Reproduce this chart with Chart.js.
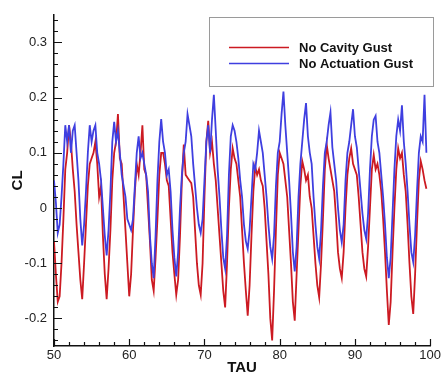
<!DOCTYPE html>
<html>
<head>
<meta charset="utf-8">
<script src="https://cdn.jsdelivr.net/npm/chart.js@4.4.1/dist/chart.umd.min.js"></script>
<style>
  html, body { margin: 0; padding: 0; background: #fff; }
  #wrap { width: 443px; height: 377px; position: relative; }
</style>
</head>
<body>
<div id="wrap"><canvas id="clChart"></canvas></div>
<script>
// sample times (TAU)
const tau = [
  50.00, 50.25, 50.50, 50.75, 51.00, 51.25, 51.50, 51.75, 52.00, 52.25, 52.50, 52.75,
  53.00, 53.25, 53.50, 53.75, 54.00, 54.25, 54.50, 54.75, 55.00, 55.25, 55.50, 55.75,
  56.00, 56.25, 56.50, 56.75, 57.00, 57.25, 57.50, 57.75, 58.00, 58.25, 58.50, 58.75,
  59.00, 59.25, 59.50, 59.75, 60.00, 60.25, 60.50, 60.75, 61.00, 61.25, 61.50, 61.75,
  62.00, 62.25, 62.50, 62.75, 63.00, 63.25, 63.50, 63.75, 64.00, 64.25, 64.50, 64.75,
  65.00, 65.25, 65.50, 65.75, 66.00, 66.25, 66.50, 66.75, 67.00, 67.25, 67.50, 67.75,
  68.00, 68.25, 68.50, 68.75, 69.00, 69.25, 69.50, 69.75, 70.00, 70.25, 70.50, 70.75,
  71.00, 71.25, 71.50, 71.75, 72.00, 72.25, 72.50, 72.75, 73.00, 73.25, 73.50, 73.75,
  74.00, 74.25, 74.50, 74.75, 75.00, 75.25, 75.50, 75.75, 76.00, 76.25, 76.50, 76.75,
  77.00, 77.25, 77.50, 77.75, 78.00, 78.25, 78.50, 78.75, 79.00, 79.25, 79.50, 79.75,
  80.00, 80.25, 80.50, 80.75, 81.00, 81.25, 81.50, 81.75, 82.00, 82.25, 82.50, 82.75,
  83.00, 83.25, 83.50, 83.75, 84.00, 84.25, 84.50, 84.75, 85.00, 85.25, 85.50, 85.75,
  86.00, 86.25, 86.50, 86.75, 87.00, 87.25, 87.50, 87.75, 88.00, 88.25, 88.50, 88.75,
  89.00, 89.25, 89.50, 89.75, 90.00, 90.25, 90.50, 90.75, 91.00, 91.25, 91.50, 91.75,
  92.00, 92.25, 92.50, 92.75, 93.00, 93.25, 93.50, 93.75, 94.00, 94.25, 94.50, 94.75,
  95.00, 95.25, 95.50, 95.75, 96.00, 96.25, 96.50, 96.75, 97.00, 97.25, 97.50, 97.75,
  98.00, 98.25, 98.50, 98.75, 99.00, 99.25, 99.50
];

// CL, No Cavity Gust
const noCavity = [
  -0.06, -0.12, -0.17, -0.16, -0.10, -0.02, 0.07, 0.10, 0.15, 0.12, 0.07, 0.03,
  -0.03, -0.08, -0.13, -0.165, -0.10, -0.03, 0.04, 0.08, 0.09, 0.10, 0.12, 0.08,
  0.02, 0.04, -0.05, -0.12, -0.165, -0.11, -0.04, 0.05, 0.10, 0.12, 0.17, 0.09,
  0.08, 0.02, -0.04, -0.10, -0.16, -0.12, -0.04, 0.03, 0.08, 0.06, 0.10, 0.15,
  0.07, 0.06, 0.00, -0.06, -0.13, -0.15, -0.09, -0.02, 0.06, 0.10, 0.10, 0.08,
  0.05, 0.04, -0.02, -0.08, -0.12, -0.157, -0.13, -0.05, 0.05, 0.115, 0.06, 0.055,
  0.05, 0.045, 0.02, -0.04, -0.10, -0.14, -0.157, -0.10, 0.02, 0.12, 0.158, 0.10,
  0.12, 0.08, 0.05, 0.00, -0.05, -0.10, -0.15, -0.18, -0.10, 0.00, 0.07, 0.108,
  0.09, 0.08, 0.05, 0.02, -0.04, -0.10, -0.15, -0.195, -0.14, -0.05, 0.03, 0.075,
  0.06, 0.07, 0.05, 0.04, 0.00, -0.06, -0.12, -0.20, -0.24, -0.15, -0.04, 0.06,
  0.10, 0.09, 0.08, 0.05, 0.02, -0.04, -0.10, -0.17, -0.204, -0.12, -0.04, 0.04,
  0.085, 0.07, 0.05, 0.06, 0.02, 0.00, -0.05, -0.10, -0.14, -0.162, -0.10, -0.02,
  0.07, 0.115, 0.09, 0.07, 0.05, 0.03, -0.02, -0.08, -0.11, -0.127, -0.08, 0.00,
  0.06, 0.09, 0.108, 0.08, 0.07, 0.06, 0.02, -0.03, -0.08, -0.11, -0.124, -0.07,
  0.00, 0.07, 0.096, 0.07, 0.08, 0.06, 0.03, -0.02, -0.08, -0.15, -0.212, -0.17,
  -0.08, 0.00, 0.07, 0.108, 0.09, 0.10, 0.06, 0.03, -0.03, -0.10, -0.16, -0.192,
  -0.12, -0.03, 0.05, 0.085, 0.07, 0.05, 0.035
];

// CL, No Actuation Gust
const noActuation = [
  0.05, 0.01, -0.045, -0.03, 0.02, 0.08, 0.15, 0.12, 0.15, 0.10, 0.14, 0.15,
  0.10, 0.05, -0.02, -0.068, -0.03, 0.03, 0.10, 0.15, 0.12, 0.14, 0.15, 0.10,
  0.08, 0.05, 0.00, -0.05, -0.086, -0.04, 0.03, 0.12, 0.156, 0.12, 0.14, 0.10,
  0.06, 0.04, 0.02, -0.02, -0.03, -0.04, -0.02, 0.04, 0.10, 0.13, 0.09, 0.10,
  0.08, 0.06, 0.03, -0.05, -0.10, -0.127, -0.05, 0.05, 0.12, 0.161, 0.12, 0.10,
  0.06, 0.07, 0.03, -0.04, -0.09, -0.124, -0.08, 0.00, 0.06, 0.10, 0.12, 0.17,
  0.15, 0.13, 0.08, 0.04, 0.00, -0.03, -0.045, -0.02, 0.05, 0.12, 0.15, 0.10,
  0.16, 0.205, 0.14, 0.07, 0.02, -0.04, -0.09, -0.11, -0.05, 0.06, 0.13, 0.15,
  0.14, 0.12, 0.09, 0.05, 0.02, -0.03, -0.06, -0.074, -0.04, 0.02, 0.08, 0.07,
  0.10, 0.14, 0.12, 0.10, 0.06, 0.02, -0.03, -0.07, -0.092, -0.05, 0.04, 0.10,
  0.12, 0.17, 0.211, 0.15, 0.10, 0.05, -0.01, -0.08, -0.115, -0.07, 0.02, 0.08,
  0.12, 0.16, 0.19, 0.13, 0.10, 0.08, 0.02, -0.03, -0.07, -0.092, -0.04, 0.04,
  0.10, 0.12, 0.15, 0.173, 0.11, 0.08, 0.05, 0.00, -0.04, -0.062, -0.03, 0.05,
  0.10, 0.12, 0.15, 0.179, 0.13, 0.11, 0.07, 0.03, -0.01, -0.04, -0.056, -0.01,
  0.07, 0.13, 0.16, 0.167, 0.12, 0.10, 0.06, 0.02, -0.03, -0.09, -0.127, -0.09,
  -0.01, 0.07, 0.13, 0.16, 0.14, 0.186, 0.12, 0.08, 0.03, -0.03, -0.08, -0.098,
  -0.05, 0.03, 0.10, 0.13, 0.12, 0.205, 0.10
];

const xTicks = [50, 60, 70, 80, 90, 100];
const yTicks = [-0.2, -0.1, 0, 0.1, 0.2, 0.3];
const yTickLabels = ['-0.2', '-0.1', '0', '0.1', '0.2', '0.3'];
const seriesNames = ['No Cavity Gust', 'No Actuation Gust'];
const seriesColors = ['#cc1a22', '#3f3fe0'];

const pts = ys => ys.map((v, i) => ({x: tau[i], y: v}));

// inward major/minor ticks like the original plotting tool
const innerTicks = {
  id: 'innerTicks',
  afterDraw(chart) {
    const {ctx, chartArea: a, scales: {x, y}} = chart;
    ctx.save();
    ctx.strokeStyle = '#111';
    ctx.lineWidth = 1.2;
    ctx.beginPath();
    for (let v = 50; v <= 100.001; v += 2) {
      const px = Math.round(x.getPixelForValue(v)) + 0.5;
      const len = xTicks.includes(Math.round(v)) ? 7 : 4;
      ctx.moveTo(px, a.bottom);
      ctx.lineTo(px, a.bottom - len);
    }
    for (let k = -12; k <= 17; k++) {
      const v = k * 0.02;
      const py = Math.round(y.getPixelForValue(v)) + 0.5;
      const len = k % 5 === 0 ? 8 : 4;
      ctx.moveTo(a.left, py);
      ctx.lineTo(a.left + len, py);
    }
    ctx.stroke();
    ctx.restore();
  }
};

// boxed legend sitting over the lines, top right
const boxLegend = {
  id: 'boxLegend',
  afterDatasetsDraw(chart) {
    const ctx = chart.ctx;
    ctx.save();
    ctx.fillStyle = '#fff';
    ctx.fillRect(209, 17, 225, 70);
    ctx.strokeStyle = '#9a9a9a';
    ctx.lineWidth = 1;
    ctx.strokeRect(209.5, 17.5, 224, 69);
    ctx.font = 'bold 13px "Liberation Sans", Arial, sans-serif';
    ctx.textBaseline = 'middle';
    seriesNames.forEach((name, i) => {
      const yy = 47 + i * 16;
      ctx.strokeStyle = seriesColors[i];
      ctx.lineWidth = 1.3;
      ctx.beginPath();
      ctx.moveTo(229, yy + 0.5);
      ctx.lineTo(289, yy + 0.5);
      ctx.stroke();
      ctx.fillStyle = '#111';
      ctx.fillText(name, 299, yy + 1);
    });
    ctx.restore();
  }
};

const tickFont = {family: '"Liberation Sans", Arial, sans-serif', size: 13};
const titleFont = {family: '"Liberation Sans", Arial, sans-serif', size: 15, weight: 'bold'};

new Chart(document.getElementById('clChart'), {
  type: 'line',
  data: {
    datasets: [
      {label: seriesNames[0], data: pts(noCavity), borderColor: seriesColors[0], borderWidth: 1.8, pointRadius: 0, tension: 0, order: 2},
      {label: seriesNames[1], data: pts(noActuation), borderColor: seriesColors[1], borderWidth: 1.8, pointRadius: 0, tension: 0, order: 1},
    ]
  },
  options: {
    responsive: true,
    maintainAspectRatio: false,
    animation: false,
    parsing: false,
    layout: { padding: {left: 0, right: 11, top: 7, bottom: 0} },
    plugins: { legend: { display: false }, tooltip: { enabled: false } },
    scales: {
      x: {
        type: 'linear', min: 50, max: 100,
        afterBuildTicks: s => { s.ticks = xTicks.map(v => ({value: v})); },
        afterFit: s => { s.height = 31; },
        grid: { display: false, drawTicks: false, tickLength: 0 },
        border: { display: true, color: '#111', width: 1.5 },
        ticks: { font: tickFont, color: '#222', padding: 2, maxRotation: 0, autoSkip: false },
        title: { display: true, text: 'TAU', font: titleFont, color: '#111', padding: {top: 0, bottom: 0} }
      },
      y: {
        type: 'linear', min: -0.25, max: 0.35,
        afterBuildTicks: s => { s.ticks = yTicks.map(v => ({value: v})); },
        afterFit: s => { s.width = 54; },
        grid: { display: false, drawTicks: false, tickLength: 0 },
        border: { display: true, color: '#111', width: 1.5 },
        ticks: { font: tickFont, color: '#222', padding: 7, autoSkip: false,
          callback: (v, i) => yTickLabels[i] },
        title: { display: true, text: 'CL', font: titleFont, color: '#111', padding: {top: 9, bottom: 0} }
      }
    }
  },
  plugins: [innerTicks, boxLegend]
});
</script>
</body>
</html>
